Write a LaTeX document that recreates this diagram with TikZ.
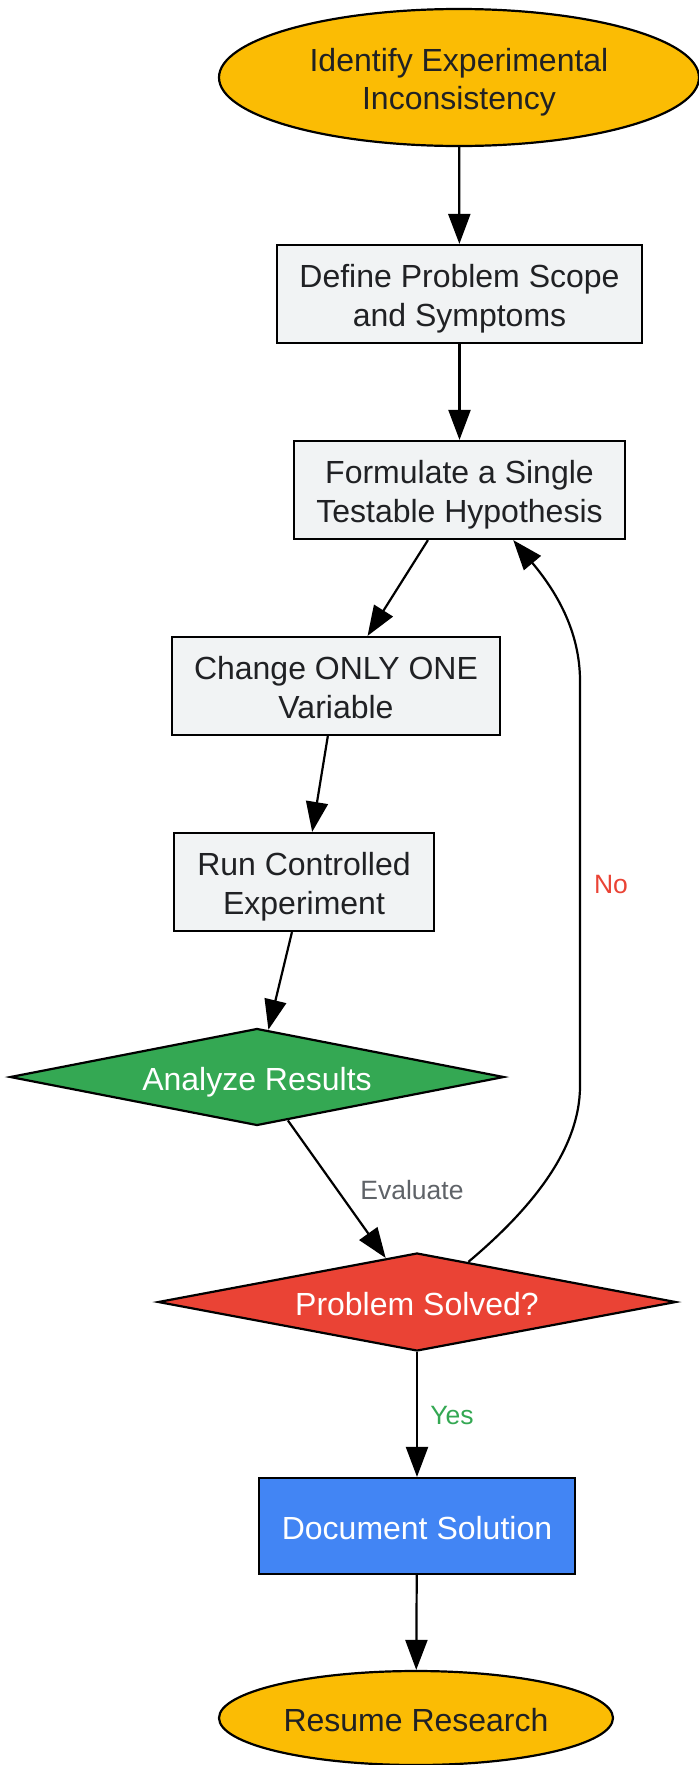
\documentclass[tikz,border=0pt]{standalone}
\usepackage{fontspec}
\setmainfont{Liberation Sans}
\usetikzlibrary{shapes.geometric,arrows.meta}
\definecolor{gyellow}{HTML}{FBBC04}
\definecolor{ggreen}{HTML}{34A853}
\definecolor{gred}{HTML}{EA4335}
\definecolor{gblue}{HTML}{4285F4}
\definecolor{boxgray}{HTML}{F1F3F4}
\definecolor{textdark}{HTML}{202124}
\definecolor{ggray}{HTML}{5F6368}
\newcommand{\tline}[1]{\smash{#1}\rule{0pt}{26.3pt}}
\begin{document}
\begin{tikzpicture}[x=1pt,y=-1pt,
  base/.style={draw=black, line width=2.2pt, inner sep=0pt, align=center, font=\fontsize{32}{38.5}\selectfont, text=textdark},
  terminal/.style={base, ellipse, fill=gyellow},
  stepbox/.style={base, rectangle, fill=boxgray},
  decision/.style={base, diamond, aspect=5, text=white},
  conn/.style={draw=black, line width=2.2pt, -{Triangle[length=30pt,width=22pt]}},
  elabel/.style={font=\fontsize{26.5}{30}\selectfont, inner sep=0pt}
]
\fill[white] (0,0) rectangle (699,1765);
\useasboundingbox (0,0) rectangle (699,1765);

\node[terminal, minimum width=480, minimum height=137] (start) at (459,77.5) {\tline{Identify Experimental}\\\tline{Inconsistency}};
\node[stepbox, minimum width=365, minimum height=98] (scope) at (459.5,294) {\tline{Define Problem Scope}\\\tline{and Symptoms}};
\node[stepbox, minimum width=331, minimum height=98] (hyp) at (459.5,490) {\tline{Formulate a Single}\\\tline{Testable Hypothesis}};
\node[stepbox, minimum width=328, minimum height=98] (change) at (336,686) {\tline{Change ONLY ONE}\\\tline{Variable}};
\node[stepbox, minimum width=260, minimum height=98] (run) at (304,882) {\tline{Run Controlled}\\\tline{Experiment}};
\node[decision, fill=ggreen, minimum width=494, minimum height=97] (analyze) at (257,1077) {\tline{Analyze Results}};
\node[decision, fill=gred, minimum width=518, minimum height=98] (solved) at (417,1302) {\tline{Problem Solved?}};
\node[stepbox, fill=gblue, text=white, minimum width=316, minimum height=96] (doc) at (417,1526) {\tline{Document Solution}};
\node[terminal, minimum width=394, minimum height=94] (resume) at (416,1718) {\tline{Resume Research}};

\draw[conn] (start) -- (scope);
\draw[conn] (scope) -- (hyp);
\draw[conn] (hyp) -- (change);
\draw[conn] (change) -- (run);
\draw[conn] (run) -- (analyze);
\draw[conn] (analyze) -- (solved);
\draw[conn] (solved) -- (doc);
\draw[conn] (doc) -- (resume);
\draw[conn] (solved.38) .. controls (530,1210) and (580,1150) .. (580,1086) -- (580,681) .. controls (580,630) and (555,590) .. (hyp.-43);

\node[elabel, text=ggray] (evl) at (412,1190) {Evaluate};
\node[elabel, text=gred] (nol) at (611,884) {No};
\node[elabel, text=ggreen] (yesl) at (452,1415) {Yes};
\end{tikzpicture}
\end{document}
